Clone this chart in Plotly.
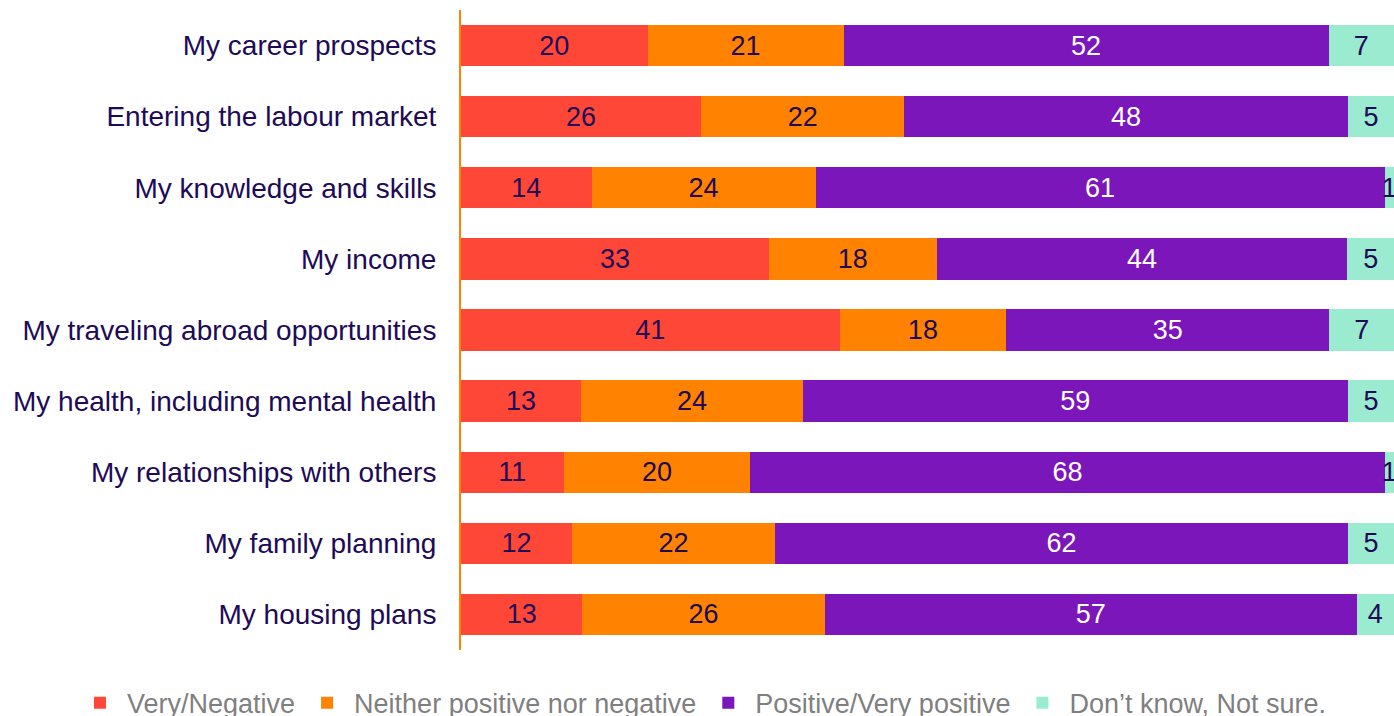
import plotly.graph_objects as go

categories = [
    "My career prospects",
    "Entering the labour market",
    "My knowledge and skills",
    "My income",
    "My traveling abroad opportunities",
    "My health, including mental health",
    "My relationships with others",
    "My family planning",
    "My housing plans",
]
very_negative = [20, 26, 14, 33, 41, 13, 11, 12, 13]
neither = [21, 22, 24, 18, 18, 24, 20, 22, 26]
positive = [52, 48, 61, 44, 35, 59, 68, 62, 57]
dont_know = [7, 5, 1, 5, 7, 5, 1, 5, 4]

series = [
    ("Very/Negative", very_negative, "#FF4737", "#200A58"),
    ("Neither positive nor negative", neither, "#FF8200", "#200A58"),
    ("Positive/Very positive", positive, "#7A16BA", "#FFFFFF"),
    ("Don\u2019t know, Not sure.", dont_know, "#9BEBD0", "#200A58"),
]

FONT = "Liberation Sans, Arial, sans-serif"

fig = go.Figure()
for name, vals, color, tcolor in series:
    fig.add_trace(go.Bar(
        y=categories, x=vals, name=name, orientation="h",
        marker=dict(color=color, line=dict(width=0)),
        text=[str(v) for v in vals], textposition="inside",
        insidetextanchor="middle", textangle=0,
        textfont=dict(color=tcolor, size=27, family=FONT),
        hoverinfo="skip",
    ))

fig.update_layout(
    barmode="stack", barnorm="percent", bargap=0.42,
    width=1394, height=716,
    margin=dict(l=461, r=0, t=10, b=66, autoexpand=False),
    paper_bgcolor="white", plot_bgcolor="white",
    font=dict(family=FONT, size=27, color="#200A58"),
    uniformtext=dict(minsize=27, mode="show"),
    showlegend=True,
    legend=dict(
        orientation="h", x=(73 - 461) / 933, xanchor="left", xref="paper",
        y=-0.083, yanchor="middle", yref="paper",
        font=dict(size=27, color="#7F7F7F", family=FONT),
        traceorder="normal", itemwidth=44,
    ),
    xaxis=dict(range=[0, 100], visible=False, fixedrange=True),
    yaxis=dict(
        autorange="reversed", showline=True, linecolor="#FF8200", linewidth=2,
        ticks="", showgrid=False, ticklabelstandoff=17, fixedrange=True,
        tickfont=dict(size=28, color="#200A58", family=FONT),
    ),
)

fig.write_html(
    "out.html",
    config={"displayModeBar": False},
    post_script=(
        "document.documentElement.style.margin='0';"
        "document.body.style.margin='0';"
        "document.documentElement.style.overflow='hidden';"
        "document.body.style.overflow='hidden';"
    ),
)
